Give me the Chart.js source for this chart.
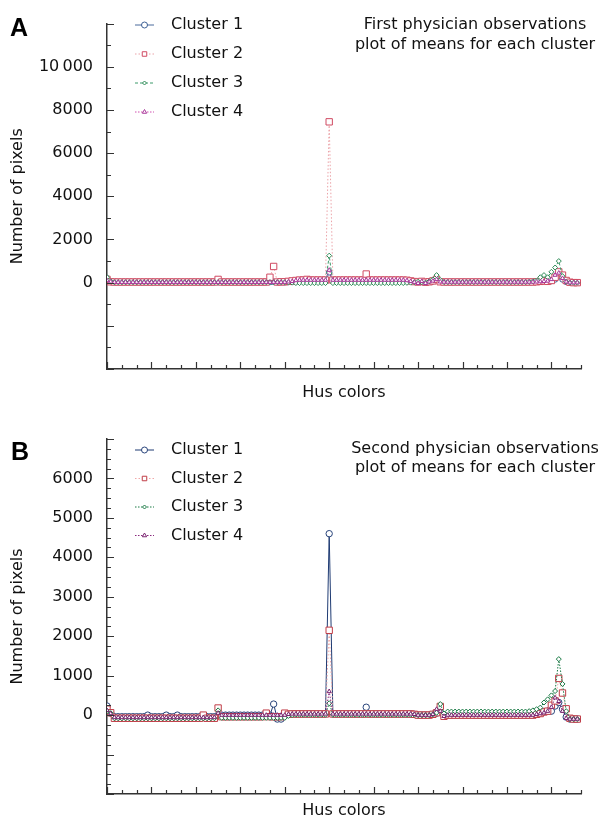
<!DOCTYPE html>
<html>
<head>
<meta charset="utf-8">
<script src="https://cdn.jsdelivr.net/npm/chart.js@4"></script>
<style>
body { margin: 0; background: #fff; }
canvas { display: block; }
</style>
</head>
<body>
<canvas id="chartA" width="601" height="411"></canvas>
<canvas id="chartB" width="601" height="411"></canvas>
<script>
// Hue bins (x axis), every second hue value 0..254
const hues = [
    0, 2, 4, 6, 8, 10, 12, 14, 16, 18, 20, 22, 24, 26, 28, 30,
    32, 34, 36, 38, 40, 42, 44, 46, 48, 50, 52, 54, 56, 58, 60, 62,
    64, 66, 68, 70, 72, 74, 76, 78, 80, 82, 84, 86, 88, 90, 92, 94,
    96, 98, 100, 102, 104, 106, 108, 110, 112, 114, 116, 118, 120, 122, 124, 126,
    128, 130, 132, 134, 136, 138, 140, 142, 144, 146, 148, 150, 152, 154, 156, 158,
    160, 162, 164, 166, 168, 170, 172, 174, 176, 178, 180, 182, 184, 186, 188, 190,
    192, 194, 196, 198, 200, 202, 204, 206, 208, 210, 212, 214, 216, 218, 220, 222,
    224, 226, 228, 230, 232, 234, 236, 238, 240, 242, 244, 246, 248, 250, 252, 254
];

const clusterNames = ['Cluster 1', 'Cluster 2', 'Cluster 3', 'Cluster 4'];

// First physician (panel A)
const firstC1 = [
    200, 30, 20, 20, 20, 20, 20, 20, 20, 20, 20, 20, 20, 20, 20, 20,
    20, 20, 20, 20, 20, 20, 20, 20, 20, 20, 20, 20, 20, 20, 20, 20,
    20, 20, 20, 20, 20, 20, 20, 20, 20, 20, 20, 20, 30, 40, 20, 20,
    20, 30, 40, 60, 80, 80, 80, 80, 80, 80, 80, 80, 480, 80, 80, 80,
    80, 80, 80, 80, 80, 80, 80, 80, 80, 80, 80, 80, 80, 80, 80, 80,
    80, 80, 60, 40, 20, 50, 20, 40, 60, 200, 40, 30, 30, 30, 30, 30,
    30, 30, 30, 30, 30, 30, 30, 30, 30, 30, 30, 30, 30, 30, 30, 30,
    30, 30, 30, 30, 40, 60, 80, 60, 80, 150, 300, 150, 40, 10, 0, 0
];
const firstC2 = [
    150, 40, 30, 30, 30, 30, 30, 30, 30, 30, 30, 30, 30, 30, 30, 30,
    30, 30, 30, 30, 30, 30, 30, 30, 30, 30, 30, 30, 30, 30, 150, 30,
    30, 30, 30, 30, 30, 30, 30, 30, 30, 30, 30, 30, 250, 750, 30, 40,
    40, 60, 80, 100, 120, 120, 150, 120, 120, 120, 120, 120, 7450, 120, 120, 120,
    120, 120, 120, 120, 120, 120, 400, 120, 120, 120, 120, 120, 120, 120, 120, 120,
    120, 110, 80, 50, 30, 60, 20, 40, 80, 150, 40, 30, 30, 30, 30, 30,
    30, 30, 30, 30, 30, 30, 30, 30, 30, 30, 30, 30, 30, 30, 30, 30,
    30, 30, 30, 30, 40, 60, 80, 60, 100, 250, 500, 350, 100, 20, 0, 0
];
const firstC3 = [
    250, 60, 20, 20, 20, 20, 20, 20, 20, 20, 20, 20, 20, 20, 20, 20,
    20, 20, 20, 20, 20, 20, 20, 20, 20, 20, 20, 20, 20, 20, 20, 20,
    20, 20, 20, 20, 20, 20, 20, 20, 20, 20, 20, 20, 20, 20, 20, 20,
    20, 10, 0, -20, -20, -20, -20, -20, -20, -20, -20, -20, 1250, -20, -20, -20,
    -20, -20, -20, -20, -20, -20, -20, -20, -20, -20, -20, -20, -20, -20, -20, -20,
    -20, -10, 0, 20, 40, 20, 0, 60, 150, 350, 120, 30, 30, 30, 30, 30,
    30, 30, 30, 30, 30, 30, 30, 30, 30, 30, 30, 30, 30, 30, 30, 30,
    30, 30, 40, 60, 100, 250, 350, 250, 500, 700, 1000, 300, 50, 0, 0, 0
];
const firstC4 = [
    100, 40, 20, 20, 20, 20, 20, 20, 20, 20, 20, 20, 20, 20, 20, 20,
    20, 20, 20, 20, 20, 20, 20, 20, 20, 20, 20, 20, 20, 20, 20, 20,
    20, 20, 20, 20, 20, 20, 20, 20, 20, 20, 20, 20, 20, 20, 20, 20,
    20, 40, 60, 100, 120, 120, 120, 120, 120, 120, 120, 120, 580, 120, 120, 120,
    120, 120, 120, 120, 120, 120, 120, 120, 120, 120, 120, 120, 120, 120, 120, 120,
    120, 100, 60, 20, -30, 60, -30, 40, 80, 150, 40, 30, 30, 30, 30, 30,
    30, 30, 30, 30, 30, 30, 30, 30, 30, 30, 30, 30, 30, 30, 30, 30,
    30, 30, 30, 30, 40, 50, 60, 80, 150, 350, 450, 200, 40, 0, 0, 0
];

// Second physician (panel B)
const secondC1 = [
    230, 50, -40, -40, -40, -40, -40, -40, -40, -40, -40, 0, -40, -40, -40, -40,
    0, -40, -40, 0, -40, -40, -40, -40, -40, -40, -40, -40, -40, -40, 0, 0,
    0, 0, 0, 0, 0, 0, 0, 0, 0, 0, 0, 0, 0, 280, -100, -100,
    0, 20, 30, 30, 30, 30, 30, 30, 30, 30, 30, 30, 4600, 30, 30, 30,
    30, 30, 30, 30, 30, 30, 200, 30, 30, 30, 30, 30, 30, 30, 30, 30,
    30, 30, 30, 20, 0, 0, 0, 0, 20, 50, 80, -20, 0, 0, 0, 0,
    0, 0, 0, 0, 0, 0, 0, 0, 0, 0, 0, 0, 0, 0, 0, 0,
    0, 0, 0, 0, 20, 50, 80, 100, 100, 230, 320, 150, -50, -100, -100, -100
];
const secondC2 = [
    150, 60, -80, -80, -80, -80, -80, -80, -80, -80, -80, -80, -80, -80, -80, -80,
    -80, -80, -80, -80, -80, -80, -80, -80, -80, -80, 0, -80, -80, -80, 180, -40,
    -40, -40, -40, -40, -40, -40, -40, -40, -40, -40, -40, 50, -40, -40, -40, -40,
    50, 20, 30, 30, 30, 30, 30, 30, 30, 30, 30, 30, 2150, 30, 30, 30,
    30, 30, 30, 30, 30, 30, 30, 30, 30, 30, 30, 30, 30, 30, 30, 30,
    30, 30, 30, 20, 0, 0, 0, 0, 20, 60, 220, -30, 0, 0, 0, 0,
    0, 0, 0, 0, 0, 0, 0, 0, 0, 0, 0, 0, 0, 0, 0, 0,
    0, 0, 0, 0, 20, 40, 80, 100, 250, 360, 930, 560, 160, -80, -100, -100
];
const secondC3 = [
    100, 50, -80, -80, -80, -80, -80, -80, -80, -80, -80, -80, -80, -80, -80, -80,
    -80, -80, -80, -80, -80, -80, -80, -80, -80, -80, -80, -80, -80, -80, 120, -70,
    -70, -70, -70, -70, -70, -70, -70, -70, -70, -70, -70, -70, -70, -70, -70, -70,
    -70, -20, 0, 10, 10, 10, 10, 10, 10, 10, 10, 10, 300, 10, 10, 10,
    10, 10, 10, 10, 10, 10, 10, 10, 10, 10, 10, 10, 10, 10, 10, 10,
    10, 10, 10, 10, 0, 0, 0, 0, 20, 60, 280, 40, 90, 90, 90, 90,
    90, 90, 90, 90, 90, 90, 90, 90, 90, 90, 90, 90, 90, 90, 90, 90,
    90, 90, 100, 120, 150, 190, 320, 400, 500, 610, 1420, 790, 100, -100, -100, -100
];
const secondC4 = [
    120, 40, -60, -60, -60, -60, -60, -60, -60, -60, -60, -60, -60, -60, -60, -60,
    -60, -60, -60, -60, -60, -60, -60, -60, -60, -60, -60, -60, -60, -60, 50, 0,
    0, 0, 0, 0, 0, 0, 0, 0, 0, 0, 0, 0, 0, 0, 0, 0,
    0, 20, 30, 30, 30, 30, 30, 30, 30, 30, 30, 30, 600, 30, 30, 30,
    30, 30, 30, 30, 30, 30, 30, 30, 30, 30, 30, 30, 30, 30, 30, 30,
    30, 30, 30, 20, 0, 0, 0, 0, 20, 150, 100, -30, 0, 0, 0, 0,
    0, 0, 0, 0, 0, 0, 0, 0, 0, 0, 0, 0, 0, 0, 0, 0,
    0, 0, 0, 0, 20, 40, 60, 100, 200, 440, 350, 100, -80, -100, -100, -100
];

// Labelled y ticks
const yLabelsA = [0, 2000, 4000, 6000, 8000, 10000];
const yLabelsB = [0, 1000, 2000, 3000, 4000, 5000, 6000];

Chart.defaults.font.family = '"DejaVu Sans", sans-serif';
Chart.defaults.font.size = 16;
Chart.defaults.color = '#111';

function fmtTick(v) {
    return v >= 10000 ? String(v).replace(/(\d)(\d{3})$/, '$1\u2009$2') : String(v);
}

// Minor/major tick marks drawn inward, letter, title and legend
const decorPlugin = {
    id: 'decor',
    afterDraw(chart, args, o) {
        const ctx = chart.ctx;
        const area = chart.chartArea;
        const x = chart.scales.x, y = chart.scales.y;
        ctx.save();
        ctx.strokeStyle = '#333';
        ctx.lineWidth = 1.2;
        ctx.beginPath();
        for (let v = y.min; v <= y.max; v += o.yMinor) {
            const py = Math.round(y.getPixelForValue(v)) + 0.5;
            const len = (v % o.yMajor === 0) ? 7 : 4;
            ctx.moveTo(area.left, py);
            ctx.lineTo(area.left + len, py);
        }
        for (let v = x.min; v <= x.max; v += 8) {
            const px = Math.round(x.getPixelForValue(v)) + 0.5;
            const len = (v % 24 === 0) ? 7 : 4;
            ctx.moveTo(px, area.bottom);
            ctx.lineTo(px, area.bottom - len);
        }
        ctx.stroke();

        // panel letter
        ctx.fillStyle = '#000';
        ctx.font = 'bold 25px "Liberation Sans", sans-serif';
        ctx.textAlign = 'center';
        ctx.textBaseline = 'middle';
        ctx.fillText(o.letter, o.letterX, o.letterY);

        // title
        ctx.fillStyle = '#111';
        ctx.font = '16px "DejaVu Sans", sans-serif';
        o.title.forEach((t, i) => ctx.fillText(t, 475, o.titleY[i]));

        // legend
        ctx.textAlign = 'left';
        chart.data.datasets.forEach((ds, i) => {
            const ly = o.legendY + i * o.legendGap;
            ctx.strokeStyle = ds.borderColor;
            ctx.lineWidth = 1;
            ctx.setLineDash(ds.borderDash || []);
            ctx.beginPath();
            ctx.moveTo(135, ly);
            ctx.lineTo(154, ly);
            ctx.stroke();
            ctx.setLineDash([]);
            ctx.strokeStyle = ds.pointBorderColor;
            ctx.fillStyle = '#fff';
            Chart.helpers.drawPoint(ctx, {
                pointStyle: ds.pointStyle, radius: ds.legendRadius, rotation: 0, borderWidth: 1
            }, 144.5, ly);
            ctx.fillStyle = '#111';
            ctx.fillText(ds.label, 171, ly);
        });
        ctx.restore();
    }
};

function makeDataset(label, values, style) {
    return Object.assign({
        label: label,
        data: values,
        borderWidth: 1,
        pointBorderWidth: 1,
        pointBackgroundColor: '#fff',
        tension: 0,
        fill: false
    }, style);
}

function createPanel(canvasId, series, styles, panel) {
    return new Chart(document.getElementById(canvasId), {
        type: 'line',
        data: {
            labels: hues,
            datasets: series.map((s, i) => makeDataset(clusterNames[i], s, styles[i]))
        },
        options: {
            responsive: false,
            animation: false,
            layout: { padding: { top: panel.top, right: 20, bottom: 0, left: 0 } },
            plugins: {
                legend: { display: false },
                tooltip: { enabled: false },
                decor: panel.decor
            },
            scales: {
                x: {
                    type: 'linear',
                    min: 0,
                    max: 256,
                    grid: { display: false, drawTicks: false },
                    border: { color: '#333', width: 1.5 },
                    ticks: { display: false },
                    title: { display: true, text: 'Hus colors', padding: { top: 0, bottom: panel.xTitlePad } },
                    afterFit: s => { s.height = panel.xHeight; }
                },
                y: {
                    min: panel.yMin,
                    max: panel.yMax,
                    grid: { display: false, drawTicks: false },
                    border: { color: '#333', width: 1.5 },
                    ticks: {
                        stepSize: panel.decor.yMajor,
                        autoSkip: false,
                        padding: 14,
                        callback: v => panel.labels.includes(v) ? fmtTick(v) : ''
                    },
                    title: { display: true, text: 'Number of pixels', padding: { top: 8, bottom: 0 } },
                    afterFit: s => { s.width = 107; }
                }
            }
        },
        plugins: [decorPlugin]
    });
}

const stylesA = [
    { borderColor: '#4a6a9c', pointBorderColor: '#3d5f94', pointStyle: 'circle', pointRadius: 2.8, legendRadius: 3, order: 4 },
    { borderColor: '#eba3a8', borderDash: [1.5, 2], pointBorderColor: '#d04a62', pointStyle: 'rect', pointRadius: 4.5, legendRadius: 3.2, order: 3 },
    { borderColor: '#3d9a6a', borderDash: [3, 2], pointBorderColor: '#2e8b57', pointStyle: 'rectRot', pointRadius: 2.5, legendRadius: 2, order: 2 },
    { borderColor: '#d050b0', borderDash: [1.5, 1.5], pointBorderColor: '#a8389a', pointStyle: 'triangle', pointRadius: 2.4, legendRadius: 2.5, order: 1 }
];
const stylesB = [
    { borderColor: '#1f3b73', pointBorderColor: '#27437a', pointStyle: 'circle', pointRadius: 3.2, legendRadius: 3, order: 4 },
    { borderColor: '#f0a8a8', borderDash: [1.5, 2], pointBorderColor: '#c03c46', pointStyle: 'rect', pointRadius: 4.5, legendRadius: 3.2, order: 3 },
    { borderColor: '#1a7a45', borderDash: [1.5, 1.5], pointBorderColor: '#1a7a45', pointStyle: 'rectRot', pointRadius: 2.5, legendRadius: 2, order: 2 },
    { borderColor: '#8a2a7e', borderDash: [1.5, 1.5], pointBorderColor: '#7a2470', pointStyle: 'triangle', pointRadius: 2.4, legendRadius: 2.5, order: 1 }
];

createPanel('chartA', [firstC1, firstC2, firstC3, firstC4], stylesA, {
    top: 15, xHeight: 42, xTitlePad: 9, yMin: -4000, yMax: 12000, labels: yLabelsA,
    decor: {
        yMinor: 1000, yMajor: 2000, letter: 'A', letterX: 19, letterY: 29,
        title: ['First physician observations', 'plot of means for each cluster'], titleY: [25, 45],
        legendY: 25, legendGap: 29
    }
});

createPanel('chartB', [secondC1, secondC2, secondC3, secondC4], stylesB, {
    top: 28, xHeight: 28, xTitlePad: 2, yMin: -2000, yMax: 7000, labels: yLabelsB,
    decor: {
        yMinor: 250, yMajor: 1000, letter: 'B', letterX: 20, letterY: 42,
        title: ['Second physician observations', 'plot of means for each cluster'], titleY: [38, 57],
        legendY: 39, legendGap: 28.5
    }
});
</script>
</body>
</html>
